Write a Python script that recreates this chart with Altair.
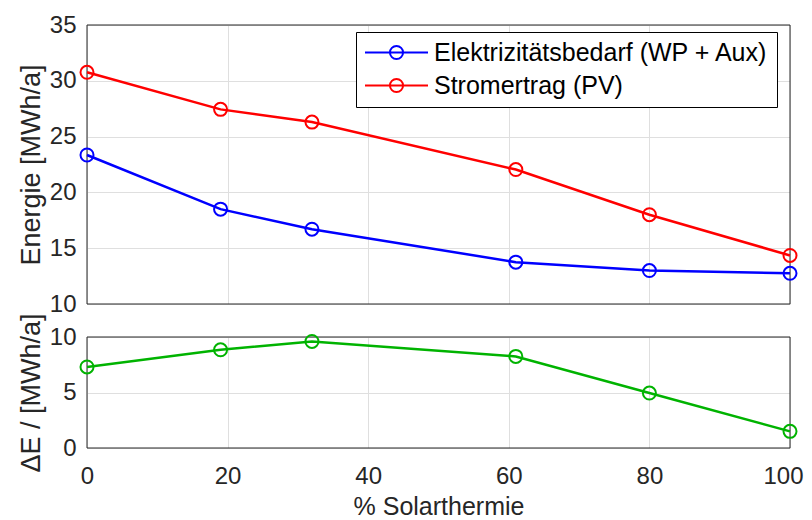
import altair as alt
import pandas as pd

# ---- data ----
solar = [0, 19, 32, 61, 80, 100]
bedarf = [23.35, 18.5, 16.7, 13.75, 13.0, 12.75]
ertrag = [30.76, 27.44, 26.3, 22.05, 18.0, 14.35]
delta = [7.3, 8.85, 9.6, 8.25, 4.95, 1.5]
series_names = ["Elektrizitätsbedarf (WP + Aux)", "Stromertrag (PV)"]
x_ticks = [0, 20, 40, 60, 80, 100]
y_ticks_top = [10, 15, 20, 25, 30, 35]
y_ticks_bottom = [0, 5, 10]

df_top = pd.DataFrame({
    "x": solar + solar,
    "y": bedarf + ertrag,
    "s": [series_names[0]] * len(solar) + [series_names[1]] * len(solar),
})
df_bot = pd.DataFrame({"x": solar, "y": delta})
df_one = pd.DataFrame({"a": [0]})

FONT = "Liberation Sans"
TXT = "#262626"
W = 703
H_TOP = 279
H_BOT = 111

# legend symbol: line with hollow circle in the middle (scale = sqrt(529)/2 = 11.5 px/unit)
SYM = "M-2.74,0L2.74,0M0.57,0A0.57,0.57,0,1,1,-0.57,0A0.57,0.57,0,1,1,0.57,0Z"

xscale = alt.Scale(domain=[0, 100], nice=False, zero=False)

color = alt.Color(
    "s:N",
    scale=alt.Scale(domain=series_names, range=["#0000ff", "#ff0000"]),
    legend=alt.Legend(
        title=None, orient="none", legendX=269, legendY=7,
        symbolType=SYM, symbolSize=529, symbolStrokeWidth=2,
        symbolFillColor="transparent", symbolOffset=20,
        labelFont=FONT, labelFontSize=25, labelColor="#000000",
        labelOffset=25, labelLimit=0, padding=8, rowPadding=7,
        strokeColor="#000000", fillColor="#ffffff", cornerRadius=0,
    ),
)


def box(h):
    return alt.Chart(df_one).mark_rect(fillOpacity=0, stroke=TXT, strokeWidth=1).encode(
        x=alt.value(0), x2=alt.value(W), y=alt.value(0), y2=alt.value(h)
    )


x_top = alt.X("x:Q", scale=xscale,
              axis=alt.Axis(values=x_ticks, labels=False, ticks=False,
                            domain=False, title=None, grid=True))
y_top = alt.Y("y:Q", scale=alt.Scale(domain=[10, 35], nice=False, zero=False),
              axis=alt.Axis(values=y_ticks_top, title="Energie [MWh/a]",
                            ticks=False, domain=False, grid=True))

base_top = alt.Chart(df_top)
top = alt.layer(
    box(H_TOP),
    base_top.mark_line(strokeWidth=2.5).encode(x=x_top, y=y_top, color=color),
    base_top.mark_point(filled=False, size=169, strokeWidth=2, opacity=1)
    .encode(x=x_top, y=y_top, color=color),
).properties(width=W, height=H_TOP)

x_bot = alt.X("x:Q", scale=xscale,
              axis=alt.Axis(values=x_ticks, title="% Solarthermie",
                            ticks=False, domain=False, grid=True, labelFlush=False,
                            labelOffset={"condition": {"test": "datum.value == 100", "value": -7},
                                         "value": 0},
                            labelPadding=16, titlePadding=6, titleFontSize=25))
y_bot = alt.Y("y:Q", scale=alt.Scale(domain=[0, 10], nice=False, zero=False),
              axis=alt.Axis(values=y_ticks_bottom, title="ΔE / [MWh/a]",
                            ticks=False, domain=False, grid=True))

base_bot = alt.Chart(df_bot)
bottom = alt.layer(
    box(H_BOT),
    base_bot.mark_line(strokeWidth=2.5, color="#00b300").encode(x=x_bot, y=y_bot),
    base_bot.mark_point(filled=False, size=169, strokeWidth=2, opacity=1,
                        color="#00b300").encode(x=x_bot, y=y_bot),
).properties(width=W, height=H_BOT)

chart = (
    alt.vconcat(top, bottom, spacing=33, bounds="flush")
    .properties(padding={"left": 9, "top": 5, "right": 0, "bottom": 0})
    .configure_view(strokeWidth=0)
    .configure_axis(
        labelFont=FONT, labelFontSize=24, labelColor=TXT,
        titleFont=FONT, titleFontSize=27, titleColor=TXT, titleFontWeight="normal",
        gridColor="#dfdfdf", gridWidth=1, labelPadding=11,
    )
    .configure_axisY(titlePadding=4)
)

chart.save("out.html", embed_options={"renderer": "svg", "actions": False})
